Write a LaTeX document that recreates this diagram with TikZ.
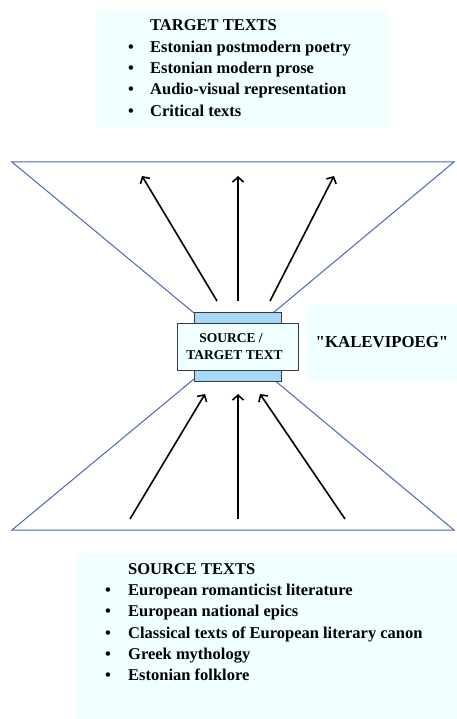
\documentclass[tikz,border=0pt]{standalone}
\usepackage{fontspec}
\setmainfont{Liberation Serif}
\newfontfamily\plainquotes{Liberation Serif}[Ligatures=TeXOff]
\usetikzlibrary{arrows.meta}
\definecolor{paleCyan}{HTML}{F0FFFF}
\definecolor{midBlue}{HTML}{A6D8F8}
\definecolor{lineBlue}{HTML}{4A66B8}
\definecolor{edgeGray}{HTML}{3A3A3A}
\tikzset{
  panel/.style={fill=paleCyan, draw=none, inner sep=0pt, anchor=north west},
  backrect/.style={fill=midBlue, draw=edgeGray, line width=1pt, inner sep=0pt},
  frontbox/.style={fill=paleCyan, draw=edgeGray, line width=1pt, inner sep=0pt},
  listtext/.style={anchor=base west, inner sep=0pt, font=\fontsize{16.5}{19}\selectfont\bfseries},
  bul/.style={anchor=base, inner sep=0pt, font=\fontsize{16.5}{19}\selectfont\bfseries},
  centertext/.style={anchor=base, inner sep=0pt, font=\fontsize{13.5}{16}\selectfont\bfseries},
  titletext/.style={anchor=base, inner sep=0pt, font=\plainquotes\fontsize{16.8}{19}\selectfont\bfseries},
  hourglass/.style={draw=lineBlue, line width=1pt},
  flow/.style={draw=black, line width=1.6pt, -{Straight Barb[length=5pt,width=11pt,line width=1.6pt]}}
}
\begin{document}
\begin{tikzpicture}[x=1pt,y=-1pt]
\useasboundingbox (0,0) rectangle (457,719);

% panels
\node[panel, minimum width=292pt, minimum height=118pt] (topbox) at (97,10) {};
\node[panel, minimum width=381pt, minimum height=166pt] (botbox) at (76,553) {};
\node[panel, minimum width=150pt, minimum height=76pt] (kalbox) at (307,305) {};

% hourglass lines
\coordinate (tl) at (12,162);
\coordinate (tr) at (454,162);
\coordinate (bl) at (12,530);
\coordinate (br) at (454,530);
\coordinate (itl) at (194,313);
\coordinate (itr) at (273,313);
\coordinate (ibl) at (194,379);
\coordinate (ibr) at (273,379);
\draw[hourglass] (itl) -- (tl) -- (tr) -- (itr);
\draw[hourglass] (ibl) -- (bl) -- (br) -- (ibr);

% centre boxes
\node[backrect, minimum width=87pt, minimum height=69pt] (blue) at (237.5,346.5) {};
\node[frontbox, minimum width=121pt, minimum height=47pt] (front) at (237.5,346.5) {};
\node[centertext] (src1) at (231,342) {SOURCE /};
\node[centertext] (src2) at (234.5,359) {TARGET TEXT};
\node[titletext] (kal) at (382,347) {"KALEVIPOEG"};

% top list
\node[listtext] (tt0) at (150,31) {TARGET TEXTS};
\foreach \i/\y/\t in {1/52.3/Estonian postmodern poetry,
                      2/73.6/Estonian modern prose,
                      3/94.9/Audio-visual representation,
                      4/116.2/Critical texts}{
  \node[bul] (tb\i) at (131,\y) {\textbullet};
  \node[listtext] (tt\i) at (150,\y) {\t};
}

% bottom list
\node[listtext] (st0) at (128,574) {SOURCE TEXTS};
\foreach \i/\y/\t in {1/595.5/European romanticist literature,
                      2/616.8/European national epics,
                      3/638.1/Classical texts of European literary canon,
                      4/659.4/Greek mythology,
                      5/680.7/Estonian folklore}{
  \node[bul] (sb\i) at (108,\y) {\textbullet};
  \node[listtext] (st\i) at (128,\y) {\t};
}

% arrows out (top)
\coordinate (o1s) at (217,301); \coordinate (o1e) at (142,176);
\coordinate (o2s) at (238,301); \coordinate (o2e) at (238,176);
\coordinate (o3s) at (270,301); \coordinate (o3e) at (334,176);
\draw[flow] (o1s) -- (o1e);
\draw[flow] (o2s) -- (o2e);
\draw[flow] (o3s) -- (o3e);

% arrows in (bottom)
\coordinate (i1s) at (130,519); \coordinate (i1e) at (205,394);
\coordinate (i2s) at (238,519); \coordinate (i2e) at (238,394);
\coordinate (i3s) at (345,519); \coordinate (i3e) at (260,394);
\draw[flow] (i1s) -- (i1e);
\draw[flow] (i2s) -- (i2e);
\draw[flow] (i3s) -- (i3e);
\end{tikzpicture}
\end{document}
